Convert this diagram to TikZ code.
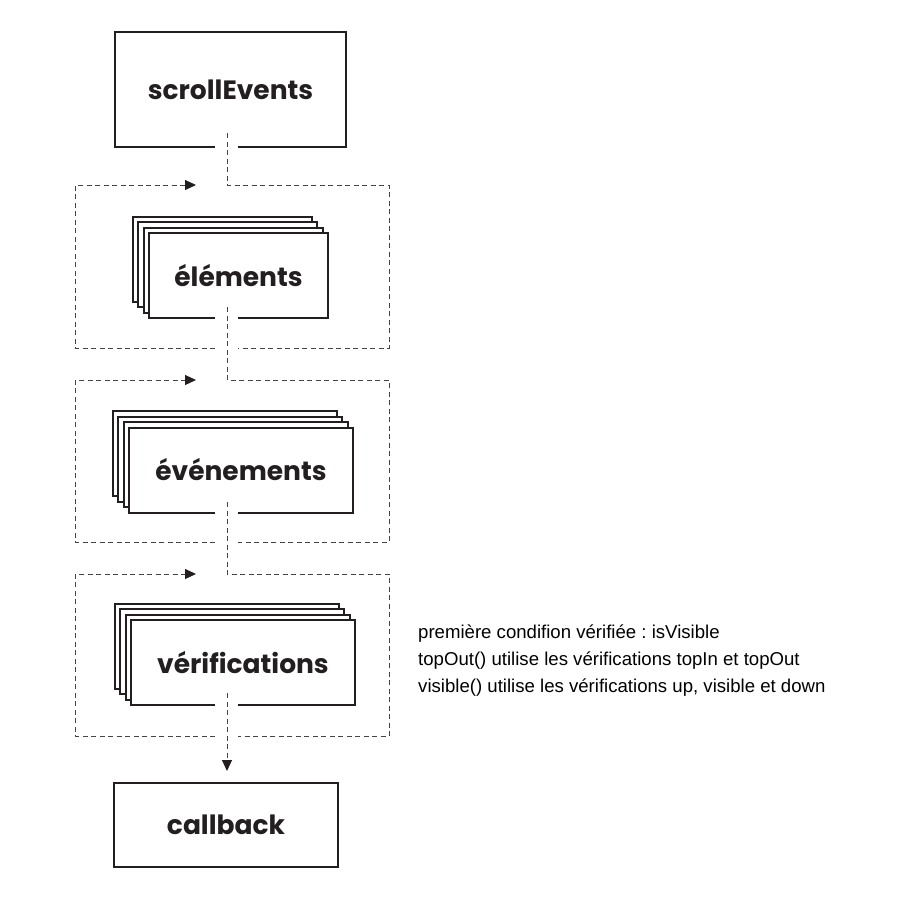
\documentclass[tikz,border=0pt]{standalone}
\usepackage{fontspec}
\setmainfont{Liberation Sans}
\newfontfamily\boxfont{Poppins}
\usetikzlibrary{arrows.meta}
\definecolor{ink}{HTML}{231F20}
\definecolor{dashc}{HTML}{444444}
\frenchspacing
\tikzset{
  boxstyle/.style={draw=ink, line width=2pt, fill=white, inner sep=0pt,
    font=\boxfont\bfseries\fontsize{26.5}{30}\selectfont, text=ink},
  backbox/.style={draw=ink, line width=2pt, fill=white, inner sep=0pt},
  dashline/.style={draw=dashc, line width=1pt, dash pattern=on 5pt off 3.5pt},
  tipline/.style={dashline, -{Triangle[length=11pt,width=10pt,color=ink]}},
  notestyle/.style={anchor=base west, inner sep=0pt, font=\fontsize{18.6}{26}\selectfont, text=black}
}
\begin{document}
\begin{tikzpicture}[x=1pt,y=-1pt]
\useasboundingbox[fill=white] (0,0) rectangle (900,900);

% scrollEvents
\node[boxstyle, minimum width=231pt, minimum height=115pt] (scroll) at (230.5,89.5) {scrollEvents};
\fill[white] (215,144) rectangle (238,150);

% frame 1
\coordinate (a1) at (227,133);
\coordinate (a2) at (227,185);
\coordinate (a3) at (389,185);
\coordinate (a4) at (389,348);
\coordinate (a5) at (238,348);
\coordinate (a6) at (215,348);
\coordinate (a7) at (75,348);
\coordinate (a8) at (75,185);
\coordinate (a9) at (196,185);
\draw[dashline] (a1) -- (a2) -- (a3) -- (a4) -- (a5);
\draw[tipline] (a6) -- (a7) -- (a8) -- (a9);

% elements stack
\node[backbox, minimum width=179pt, minimum height=85pt] (el3) at (222.3,259.3) {};
\node[backbox, minimum width=179pt, minimum height=85pt] (el2) at (227.7,264.7) {};
\node[backbox, minimum width=179pt, minimum height=85pt] (el1) at (233.1,270.1) {};
\node[boxstyle, minimum width=179pt, minimum height=85pt] (el) at (238.5,275.5) {éléments};
\fill[white] (215,315) rectangle (238,321);

% frame 2
\coordinate (b1) at (227,307);
\coordinate (b2) at (227,380);
\coordinate (b3) at (389,380);
\coordinate (b4) at (389,542);
\coordinate (b5) at (238,542);
\coordinate (b6) at (215,542);
\coordinate (b7) at (75,542);
\coordinate (b8) at (75,380);
\coordinate (b9) at (196,380);
\draw[dashline] (b1) -- (b2) -- (b3) -- (b4) -- (b5);
\draw[tipline] (b6) -- (b7) -- (b8) -- (b9);

% evenements stack
\node[backbox, minimum width=224pt, minimum height=85pt] (ev3) at (224.8,453.8) {};
\node[backbox, minimum width=224pt, minimum height=85pt] (ev2) at (230.2,459.2) {};
\node[backbox, minimum width=224pt, minimum height=85pt] (ev1) at (235.6,464.6) {};
\node[boxstyle, minimum width=224pt, minimum height=85pt] (ev) at (241,470) {événements};
\fill[white] (215,510) rectangle (238,516);

% frame 3
\coordinate (c1) at (227,502);
\coordinate (c2) at (227,574);
\coordinate (c3) at (389,574);
\coordinate (c4) at (389,736);
\coordinate (c5) at (238,736);
\coordinate (c6) at (215,736);
\coordinate (c7) at (75,736);
\coordinate (c8) at (75,574);
\coordinate (c9) at (196,574);
\draw[dashline] (c1) -- (c2) -- (c3) -- (c4) -- (c5);
\draw[tipline] (c6) -- (c7) -- (c8) -- (c9);

% verifications stack
\node[backbox, minimum width=224pt, minimum height=85pt] (ve3) at (226.8,646.3) {};
\node[backbox, minimum width=224pt, minimum height=85pt] (ve2) at (232.2,651.7) {};
\node[backbox, minimum width=224pt, minimum height=85pt] (ve1) at (237.6,657.1) {};
\node[boxstyle, minimum width=224pt, minimum height=85pt] (ve) at (243,662.5) {vérifications};
\fill[white] (215,702) rectangle (238,708);

% callback
\node[boxstyle, minimum width=224pt, minimum height=84pt] (cb) at (226,825) {callback};
\coordinate (d1) at (227,693);
\draw[tipline] (d1) -- ([yshift=11pt]cb.north -| d1);

% notes
\node[notestyle] (n1) at (418,638) {première condifion vérifiée : isVisible};
\node[notestyle] (n2) at (418,665) {topOut() utilise les vérifications topIn et topOut};
\node[notestyle] (n3) at (418,692) {visible() utilise les vérifications up, visible et down};
\end{tikzpicture}
\end{document}
